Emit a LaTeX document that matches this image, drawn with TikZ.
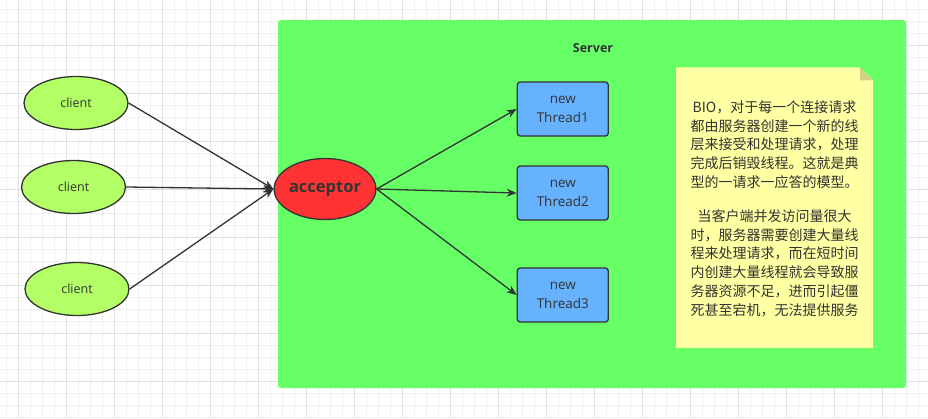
\documentclass[tikz,border=0pt]{standalone}
\usepackage{fontspec}
\setmainfont{Open Sans}
\newfontfamily\cjk{Noto Sans CJK SC}
\usetikzlibrary{shapes.geometric,arrows.meta}
\definecolor{srv}{HTML}{66FF66}
\definecolor{cli}{HTML}{B3FF66}
\definecolor{acc}{HTML}{FF3333}
\definecolor{thr}{HTML}{66B2FF}
\definecolor{notefill}{HTML}{FFFFA3}
\definecolor{notefold}{HTML}{D2D284}
\definecolor{ink}{HTML}{333333}
\definecolor{gminor}{HTML}{F0F0F0}
\definecolor{gmajor}{HTML}{E0E0E0}
\tikzset{
  gridminor/.style={draw=gminor,line width=1pt},
  gridmajor/.style={draw=gmajor,line width=1pt},
  client/.style={ellipse,draw=ink,line width=1.3pt,fill=cli,minimum width=104pt,minimum height=53pt,inner sep=0pt,text=ink,font=\fontsize{12.5}{15}\selectfont},
  acceptor/.style={ellipse,draw=ink,line width=1.3pt,fill=acc,minimum width=92pt,minimum height=61pt,inner sep=0pt,text=ink,font=\fontsize{16.5}{20}\selectfont\bfseries},
  thread/.style={rectangle,rounded corners=3pt,draw=ink,line width=1.3pt,fill=thr,minimum width=91pt,minimum height=54pt,inner sep=0pt,text=ink,align=center,font=\fontsize{13.5}{19}\selectfont},
  arr/.style={draw=ink,line width=1.3pt,-{Stealth[length=10pt,width=8pt]}},
  notetext/.style={align=center,text=ink,font=\cjk\fontsize{14}{18.7}\selectfont,inner sep=0pt}
}
\begin{document}
\begin{tikzpicture}[x=1pt,y=-1pt]
\useasboundingbox (0,0) rectangle (928,418);
\fill[white] (0,0) rectangle (928,418);
% grid
\foreach \i in {0,...,76} \draw[gridminor] ({6.5+12*\i},0) -- ({6.5+12*\i},418);
\foreach \i in {0,...,34} \draw[gridminor] (0,{9+12*\i}) -- (928,{9+12*\i});
\foreach \i in {0,...,19} \draw[gridmajor] ({18.5+48*\i},0) -- ({18.5+48*\i},418);
\foreach \i in {0,...,7} \draw[gridmajor] (0,{45+48*\i}) -- (928,{45+48*\i});
% server
\fill[srv,rounded corners=3pt] (278,20) rectangle (906,388);
\node[text=ink,font=\fontsize{12.5}{15}\selectfont\bfseries] (srvlabel) at (593,48) {Server};
% note
\fill[notefill] (676,67.3) -- (860,67.3) -- (873,80.3) -- (873,348) -- (676,348) -- cycle;
\fill[notefold] (860,67.3) -- (873,80.3) -- (860,80.3) -- cycle;
\node[notetext] (notetxt) at (774.5,208.5) {BIO，对于每一个连接请求\\都由服务器创建一个新的线\\层来接受和处理请求，处理\\完成后销毁线程。这就是典\\型的一请求一应答的模型。\\[15.7pt]当客户端并发访问量很大\\时，服务器需要创建大量线\\程来处理请求，而在短时间\\内创建大量线程就会导致服\\务器资源不足，进而引起僵\\死甚至宕机，无法提供服务};
% clients
\node[client] (c1) at (76,103) {client};
\node[client] (c2) at (73.5,187) {client};
\node[client] (c3) at (77,289) {client};
% acceptor
\node[acceptor] (acc) at (325,189) {acceptor};
% threads
\node[thread] (t1) at (562.8,109) {new\\Thread1};
\node[thread] (t2) at (562.8,193) {new\\Thread2};
\node[thread] (t3) at (562.8,295) {new\\Thread3};
% connectors
\draw[arr] (c1.east) -- (acc.west);
\draw[arr] (c2.east) -- (acc.west);
\draw[arr] (c3.east) -- (acc.west);
\draw[arr] (acc.east) -- (t1.west);
\draw[arr] (acc.east) -- (t2.west);
\draw[arr] (acc.east) -- (t3.west);
\end{tikzpicture}
\end{document}
